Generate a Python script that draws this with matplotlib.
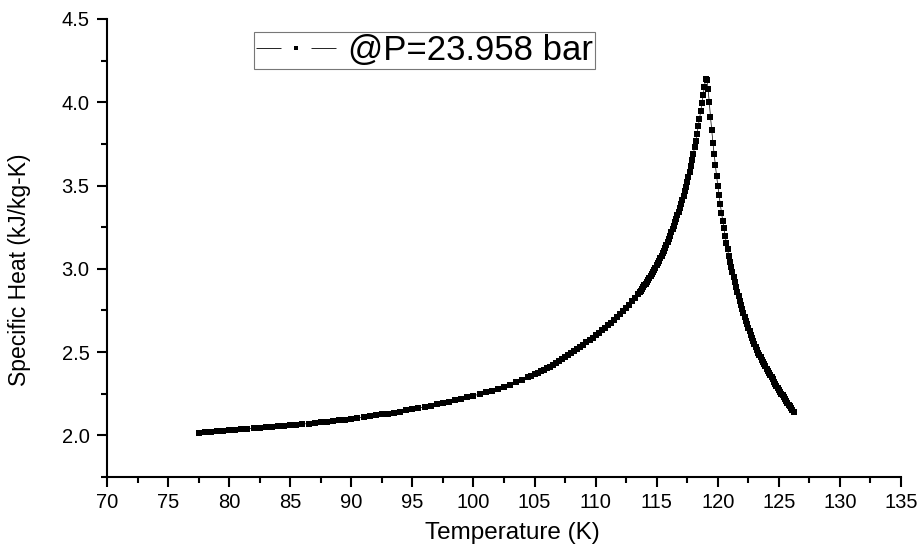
import numpy as np
import matplotlib
matplotlib.use('Agg')
import matplotlib.pyplot as plt
from matplotlib.ticker import MultipleLocator
from matplotlib.lines import Line2D

plt.rcParams['font.family'] = ['Liberation Sans', 'DejaVu Sans']
plt.rcParams['axes.linewidth'] = 1.5

# temperature grid (K) used by the source data, coarser where the curve is flat
t_a = np.round(np.arange(77.5, 104.6, 0.5), 2)
t_b = np.round(np.arange(104.75, 113.6, 0.25), 2)
t_c = np.round(np.arange(113.6, 119.05, 0.1), 2)
t_d = np.round(np.arange(119.1, 126.25, 0.1), 2)

# specific heat (kJ/kg-K)
cp_a = [2.016, 2.019, 2.021, 2.024, 2.027, 2.030, 2.033, 2.036, 2.039, 2.042,
        2.045, 2.048, 2.051, 2.054, 2.057, 2.060, 2.064, 2.068, 2.071, 2.075,
        2.079, 2.083, 2.087, 2.091, 2.095, 2.100, 2.105, 2.110, 2.115, 2.120,
        2.126, 2.131, 2.137, 2.143, 2.150, 2.157, 2.164, 2.171, 2.178, 2.186,
        2.194, 2.202, 2.210, 2.219, 2.228, 2.238, 2.248, 2.258, 2.269, 2.280,
        2.292, 2.304, 2.318, 2.333, 2.349]
cp_b = [2.357, 2.366, 2.375, 2.384, 2.393, 2.403, 2.413, 2.423, 2.434, 2.445,
        2.456, 2.468, 2.480, 2.492, 2.505, 2.518, 2.531, 2.545, 2.558, 2.572,
        2.586, 2.600, 2.615, 2.630, 2.645, 2.660, 2.676, 2.693, 2.710, 2.728,
        2.747, 2.766, 2.785, 2.805, 2.826, 2.848]
cp_c = [2.858, 2.869, 2.879, 2.890, 2.900, 2.911, 2.922, 2.933, 2.944, 2.956,
        2.968, 2.981, 2.994, 3.007, 3.020, 3.034, 3.049, 3.064, 3.079, 3.094,
        3.110, 3.126, 3.143, 3.161, 3.180, 3.199, 3.219, 3.239, 3.259, 3.280,
        3.301, 3.322, 3.344, 3.367, 3.390, 3.414, 3.439, 3.465, 3.492, 3.520,
        3.550, 3.582, 3.616, 3.652, 3.690, 3.730, 3.770, 3.811, 3.855, 3.900,
        3.946, 3.994, 4.043, 4.090, 4.140]
cp_d = [4.135, 4.080, 4.004, 3.914, 3.834, 3.758, 3.688, 3.624, 3.558, 3.500,
        3.444, 3.390, 3.338, 3.290, 3.244, 3.198, 3.158, 3.118, 3.078, 3.044,
        3.010, 2.978, 2.948, 2.918, 2.890, 2.860, 2.834, 2.807, 2.781, 2.756,
        2.732, 2.709, 2.687, 2.666, 2.645, 2.625, 2.605, 2.586, 2.567, 2.549,
        2.531, 2.513, 2.496, 2.482, 2.468, 2.454, 2.440, 2.427, 2.414, 2.401,
        2.388, 2.375, 2.362, 2.349, 2.336, 2.323, 2.311, 2.299, 2.287, 2.275,
        2.263, 2.251, 2.240, 2.229, 2.218, 2.207, 2.196, 2.185, 2.174, 2.163,
        2.152, 2.141]

temp = np.concatenate([t_a, t_b, t_c, t_d])
cp = np.concatenate([cp_a, cp_b, cp_c, cp_d])
assert len(temp) == len(cp)

legend_label = '@P=23.958 bar'

# flat rectangle marker like the original plot
rect = [(-1, -0.8), (1, -0.8), (1, 0.8), (-1, 0.8), (-1, -0.8)]

fig = plt.figure(figsize=(9.23, 5.49), dpi=100)
ax = fig.add_axes([0.1159, 0.1311, 0.8603, 0.8343])

ax.plot(temp, cp, color='black', lw=0.5, marker=rect, ms=5.0,
        mec='black', mfc='black', mew=0)

ax.set_xlim(70, 135)
ax.set_ylim(1.75, 4.5)
ax.xaxis.set_major_locator(MultipleLocator(5))
ax.xaxis.set_minor_locator(MultipleLocator(2.5))
ax.yaxis.set_major_locator(MultipleLocator(0.5))
ax.yaxis.set_minor_locator(MultipleLocator(0.25))
ax.yaxis.set_major_formatter(matplotlib.ticker.FormatStrFormatter('%.1f'))
ax.tick_params(which='major', direction='out', length=7.5, width=1.5,
               pad=4)
ax.tick_params(which='minor', direction='out', length=4.5, width=1.5)
ax.tick_params(axis='x', labelsize=14.5)
ax.tick_params(axis='y', labelsize=14.5, pad=5)
for s in ['top', 'right']:
    ax.spines[s].set_visible(False)

ax.set_xlabel('Temperature (K)', fontsize=17.5)
ax.set_ylabel('Specific Heat (kJ/kg-K)', fontsize=16.5)
ax.xaxis.set_label_coords(0.511, -0.098)
ax.yaxis.set_label_coords(-0.096, 0.452)

handle = Line2D([], [], color='black', lw=0.6, ls=(0, (30, 36, 30)),
                marker='s', ms=3.5, mew=0)
leg = ax.legend([handle], [legend_label], loc='upper left',
                bbox_to_anchor=(0.185, 0.9716), borderaxespad=0,
                fontsize=25, frameon=True, fancybox=False, borderpad=0.06,
                handlelength=2.3, handletextpad=0.35)
leg.get_frame().set_edgecolor('#555555')
leg.get_frame().set_linewidth(0.8)

fig.savefig('out.png', dpi=100)
